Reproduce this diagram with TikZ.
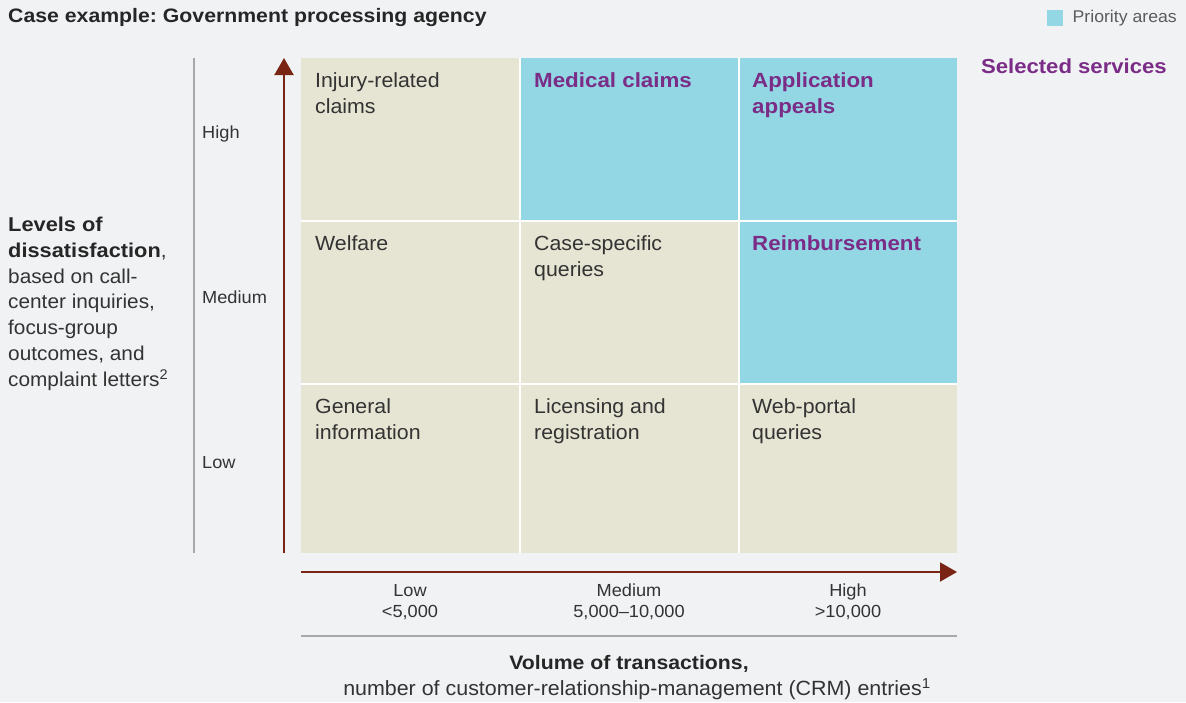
\documentclass[tikz,border=0pt]{standalone}
\usepackage{fontspec}
\setmainfont{Liberation Sans}[FakeStretch=1.04,BoldFeatures={FakeStretch=1.09}]
\frenchspacing
\usetikzlibrary{arrows.meta}
\definecolor{bg}{HTML}{F1F2F4}
\definecolor{beige}{HTML}{E6E4D2}
\definecolor{prio}{HTML}{92D7E3}
\definecolor{plum}{HTML}{7B2C87}
\definecolor{rust}{HTML}{7A2514}
\definecolor{ink}{HTML}{333333}
\definecolor{rule}{HTML}{A8A8A8}
\begin{document}
\begin{tikzpicture}[x=1pt,y=-1pt,
  celltext/.style={anchor=north west,align=left,inner sep=0pt,text=ink,font=\fontsize{20.5}{25.5}\selectfont},
  hot/.style={anchor=north west,align=left,inner sep=0pt,text=plum,font=\fontsize{20.5}{25.5}\selectfont\bfseries},
  tick/.style={anchor=center,align=center,inner sep=0pt,text=ink,font=\fontsize{17.5}{21}\selectfont},
  ylevel/.style={anchor=west,inner sep=0pt,text=ink,font=\fontsize{17.5}{20}\selectfont},
  axisarrow/.style={draw=rust,line width=2pt,-{Triangle[length=17pt,width=19pt]}},
  guide/.style={draw=rule,line width=1.5pt}]
% page
\fill[bg] (0,0) rectangle (1186,702);
\useasboundingbox (0,0) rectangle (1186,702);

% heading and key
\node[anchor=west,inner sep=0pt,text=black!85,font=\fontsize{19.5}{22}\selectfont\bfseries] (title) at (8,17) {Case example: Government processing agency};
\node[anchor=east,inner sep=0pt,text=ink!80,font=\fontsize{17}{20}\selectfont] (keytext) at (1177,18) {Priority areas};
\node[fill=prio,minimum size=16pt,inner sep=0pt] (keybox) at (1055,18) {};
\node[anchor=east,inner sep=0pt,text=plum,font=\fontsize{20.3}{24}\selectfont\bfseries] (selected) at (1167,66) {Selected services};

% matrix cells
\fill[beige] (301,58) rectangle (957,553);
\fill[prio] (520,58) rectangle (739,221);
\fill[prio] (739,58) rectangle (957,384);
\draw[white,line width=2pt] (520,58) -- (520,553) (739,58) -- (739,553)
  (301,221) -- (957,221) (301,384) -- (957,384);

% cell labels
\node[celltext] (c11) at (315,72.5) {Injury-related\\claims};
\node[hot] (c12) at (534,72.5) {Medical claims};
\node[hot] (c13) at (752,72.5) {Application\\appeals};
\node[celltext] (c21) at (315,235.5) {Welfare};
\node[celltext] (c22) at (534,235.5) {Case-specific\\queries};
\node[hot] (c23) at (752,235.5) {Reimbursement};
\node[celltext] (c31) at (315,398.5) {General\\information};
\node[celltext] (c32) at (534,398.5) {Licensing and\\registration};
\node[celltext] (c33) at (752,398.5) {Web-portal\\queries};

% vertical axis
\coordinate (ybase) at (284,553);
\coordinate (ytop) at (284,58);
\draw[axisarrow] (ybase) -- (ytop);
\coordinate (gtop) at (194,58);
\coordinate (gbot) at (194,553);
\draw[guide] (gtop) -- (gbot);
\node[ylevel] (yhigh) at (202,134) {High};
\node[ylevel] (ymed) at (202,297) {Medium};
\node[ylevel] (ylow) at (202,463) {Low};
\node[anchor=north west,align=left,inner sep=0pt,text=ink,font=\fontsize{20}{25.9}\selectfont] (ylabel) at (8,216.5)
  {\textbf{\color{black!85}Levels of}\\\textbf{\color{black!85}dissatisfaction},\\based on call-\\center inquiries,\\focus-group\\outcomes, and\\complaint letters\textsuperscript{2}};

% horizontal axis
\coordinate (xbase) at (301,572);
\coordinate (xtip) at (957,572);
\draw[axisarrow] (xbase) -- (xtip);
\coordinate (hleft) at (301,636);
\coordinate (hright) at (957,636);
\draw[guide] (hleft) -- (hright);
\node[tick] (xlow) at (410,602) {Low\\<5,000};
\node[tick] (xmed) at (629,602) {Medium\\5,000–10,000};
\node[tick] (xhigh) at (848,602) {High\\>10,000};
\node[anchor=center,align=center,inner sep=0pt,text=black!85,font=\fontsize{19.5}{23}\selectfont\bfseries] (xlabel) at (629,664) {Volume of transactions,};
\node[anchor=center,align=center,inner sep=0pt,text=ink,font=\fontsize{20.6}{23}\selectfont] (xsub) at (637,689) {number of customer-relationship-management (CRM) entries\textsuperscript{1}};
\end{tikzpicture}
\end{document}
